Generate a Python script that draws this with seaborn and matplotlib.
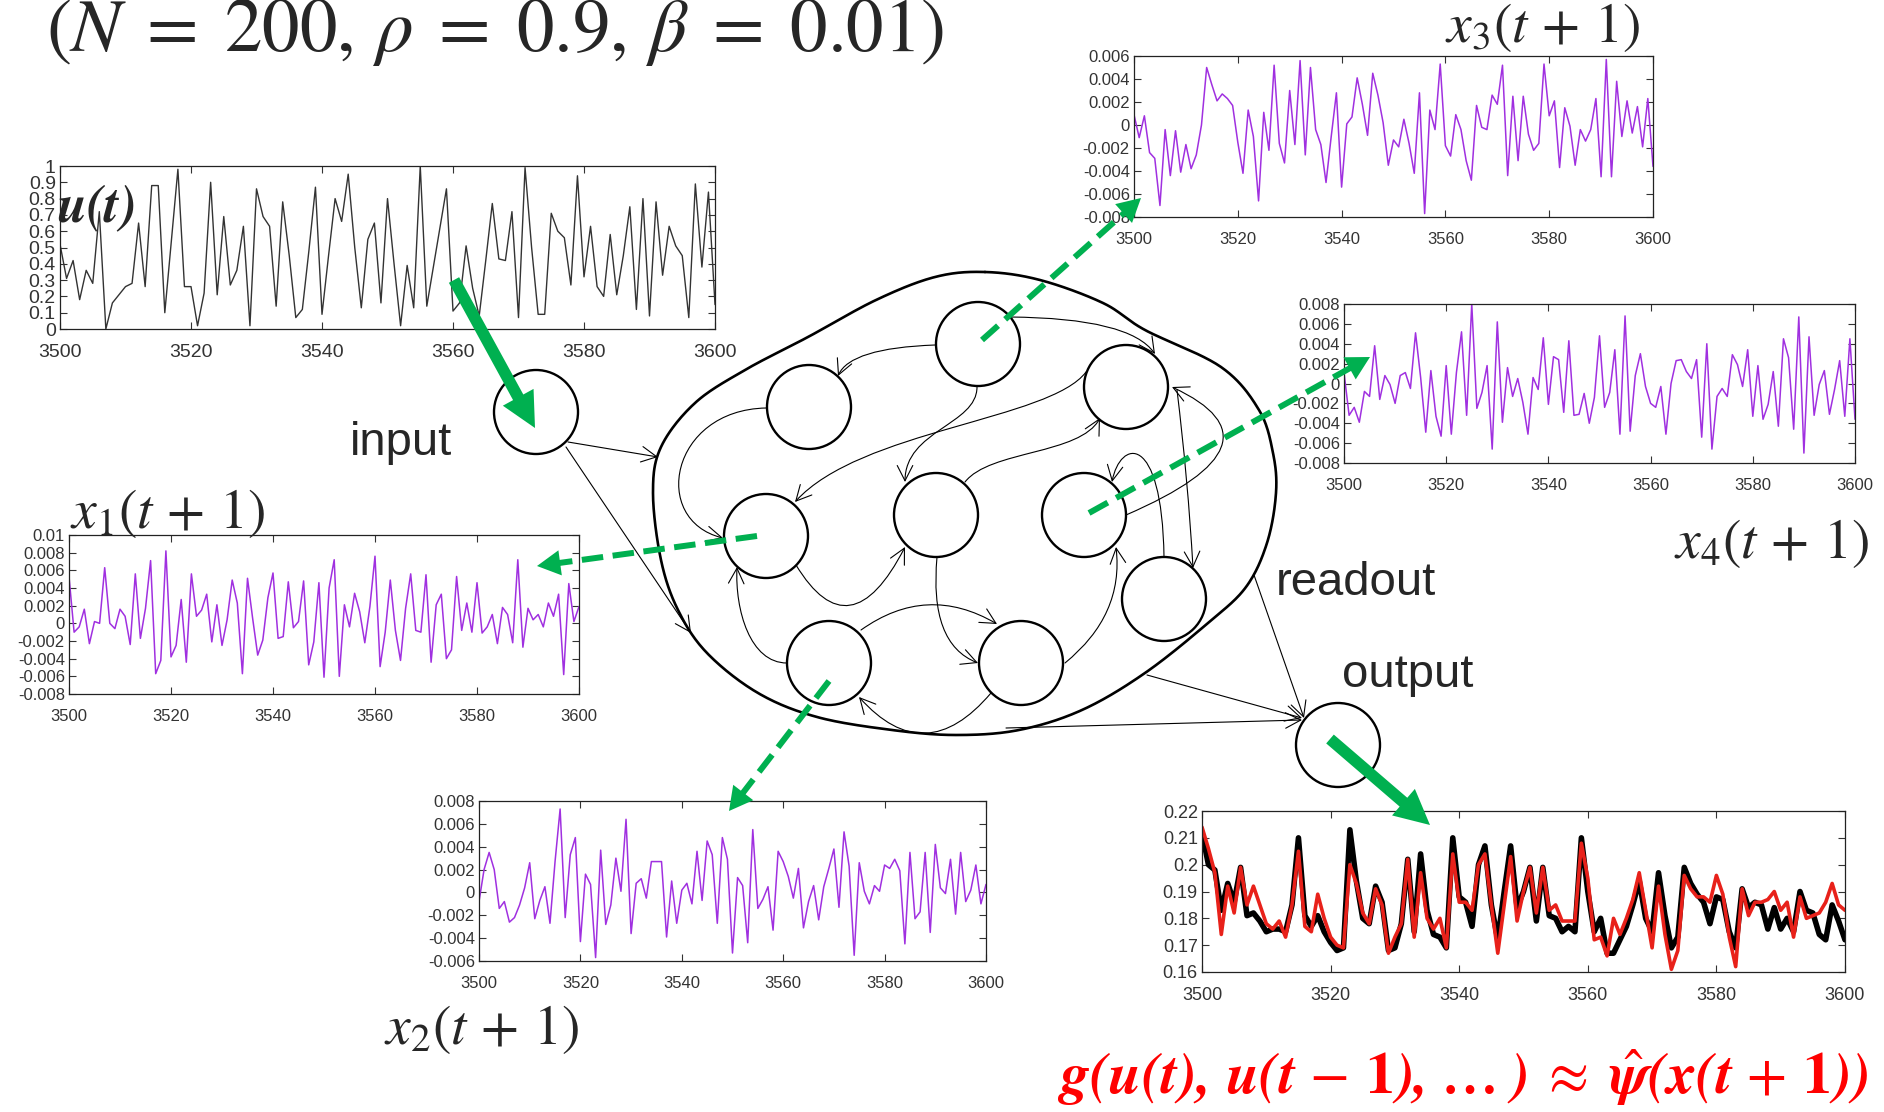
import numpy as np
import matplotlib
matplotlib.use("Agg")
import matplotlib.pyplot as plt
import seaborn as sns
from matplotlib.patches import Circle, FancyArrowPatch
from matplotlib.path import Path

sns.set_theme(style="ticks")
plt.rcParams["font.family"] = ["Liberation Sans", "DejaVu Sans"]
plt.rcParams["mathtext.fontset"] = "stix"

W, H = 1884, 1112
GREEN = "#00b050"
PURPLE = "#a030e0"

# ---- data ----
t = list(range(3500, 3601))

u_t = [0.52, 0.31, 0.42, 0.18, 0.36, 0.28, 0.72, 0.0, 0.16, 0.21,
       0.26, 0.28, 0.65, 0.26, 0.88, 0.88, 0.10, 0.54, 0.98, 0.26,
       0.26, 0.02, 0.22, 0.90, 0.21, 0.69, 0.27, 0.36, 0.63, 0.02,
       0.86, 0.69, 0.63, 0.14, 0.78, 0.45, 0.07, 0.12, 0.48, 0.87,
       0.09, 0.45, 0.80, 0.66, 0.95, 0.50, 0.13, 0.55, 0.65, 0.16,
       0.80, 0.40, 0.02, 0.39, 0.13, 1.00, 0.14, 0.38, 0.62, 0.86,
       0.11, 0.16, 0.51, 0.25, 0.08, 0.42, 0.77, 0.43, 0.42, 0.72,
       0.07, 0.99, 0.50, 0.09, 0.09, 0.71, 0.60, 0.56, 0.27, 0.94,
       0.32, 0.63, 0.26, 0.20, 0.58, 0.21, 0.45, 0.75, 0.12, 0.80,
       0.08, 0.78, 0.33, 0.63, 0.51, 0.45, 0.07, 0.89, 0.38, 0.84,
       0.15]

# reservoir states, in units of 1e-3
x1_milli = [5.3, -1.0, -0.4, 1.6, -2.3, 0.2, 0.0, 6.3, 0.0, -0.6,
            1.6, 0.8, -2.4, 5.6, -1.7, 1.7, 7.1, -5.7, -4.2, 8.2,
            -3.8, -2.5, 2.7, -4.4, 5.6, 0.8, 1.5, 3.3, -2.1, 2.1,
            -2.5, 0.4, 4.9, 2.3, -5.7, 5.1, 0.6, -3.6, -1.9, 2.9,
            5.7, -1.7, -1.5, 4.7, -0.5, 0.2, 4.8, -4.7, -2.1, 4.6,
            -6.1, 4.0, 7.2, -6.0, 2.1, -0.4, 3.4, 1.3, -2.2, 1.9,
            7.6, -4.9, -1.0, 4.9, -0.8, -4.2, 1.7, 5.6, -0.8, -1.0,
            5.5, -4.4, 2.1, 3.3, -4.0, -3.0, 5.3, -0.8, 2.3, -1.0,
            4.6, -1.1, -0.4, 1.0, -2.3, 1.8, 1.0, -2.2, 7.2, -2.7,
            1.7, 0.4, 1.0, -0.4, 2.3, 0.8, 3.3, -5.8, 4.5, 0.2,
            1.9]

x2_milli = [-0.8, 2.0, 3.5, 2.0, -1.4, -0.8, -2.6, -2.2, -1.1, 0.4,
            2.6, -2.3, -0.7, 0.5, -2.7, 2.7, 7.3, -2.2, 3.3, 4.8,
            -4.3, 1.6, 0.7, -5.7, 3.7, -2.8, -1.1, 3.0, 0.1, 6.4,
            -3.6, 0.8, 1.2, -0.5, 2.7, 2.7, 2.7, -3.9, 1.0, -2.7,
            0.2, 0.8, -1.0, 3.6, -0.7, 4.5, 3.3, -2.7, 4.8, 2.9,
            -5.3, 1.3, 0.6, -4.4, 5.5, -1.4, -0.6, 0.5, -3.3, 3.6,
            2.7, 1.4, -0.5, 2.1, -3.1, -0.8, 0.6, -2.4, 0.5, 2.1,
            3.8, -1.3, 5.3, 2.3, -5.5, 2.6, 0.1, -1.0, 0.6, 0.1,
            2.4, 2.1, 2.9, 1.9, -4.5, 3.5, -2.3, -1.7, 3.5, -3.5,
            4.2, 0.4, -0.1, 2.9, -1.9, 3.5, -0.8, 0.2, 2.4, -1.0,
            0.7]

x3_milli = [0.9, -1.1, 0.8, -2.4, -2.9, -7.0, -0.4, -4.4, -0.5, -4.1,
            -1.7, -3.8, -2.6, 0.0, 5.0, 3.5, 2.1, 2.7, 2.3, 1.7,
            -1.5, -4.2, 1.3, -1.0, -6.6, 1.1, -2.2, 5.2, -1.6, -3.3,
            3.0, -1.7, 5.6, -2.6, 5.0, -0.4, -1.7, -5.0, -1.0, 2.8,
            -5.4, 0.1, 0.7, 4.1, 1.8, -0.9, 4.5, 2.6, 0.2, -3.5,
            -1.3, -1.9, 0.5, -1.6, -4.2, 2.8, -7.7, 1.3, -0.4, 5.3,
            -1.8, -2.7, 0.9, -0.4, -3.1, -4.8, 1.7, -0.2, -0.4, 2.6,
            1.8, 5.2, -4.4, 2.5, -3.1, 2.5, -0.8, -2.2, -1.6, 5.3,
            0.8, 2.1, -3.7, 1.5, -0.1, -3.5, -0.4, -1.4, -0.4, 2.3,
            -4.5, 5.7, -4.5, 3.8, -1.0, 2.1, -0.7, 1.6, -1.9, 2.3,
            -3.6]

x4_milli = [1.1, -3.2, -2.4, -3.9, -0.8, -1.3, 3.8, -1.6, 0.8, -0.1,
            -2.0, 0.8, 1.1, -0.5, 5.1, 0.6, -4.9, 1.3, -3.3, -5.3,
            1.8, -5.1, 1.1, 5.2, -3.2, 8.0, -2.5, -0.9, 1.8, -6.6,
            6.2, -3.9, 1.6, -1.3, 0.5, -1.9, -5.1, 0.6, -0.6, 4.6,
            -2.1, 2.7, 2.4, -2.9, 4.3, -3.2, -3.1, -1.0, -4.0, -1.4,
            4.8, -2.4, -0.9, 3.4, -5.1, 6.8, -4.8, 0.8, 3.0, -0.3,
            -2.0, -2.4, -0.3, -5.1, 0.0, 2.3, 2.4, 1.2, 0.5, 2.4,
            -5.4, 4.0, -6.6, -1.3, -0.5, -1.3, 2.9, 1.9, -0.3, 3.4,
            -3.3, 1.8, -3.6, -2.1, 1.2, -4.3, 4.5, 2.6, -4.6, 6.7,
            -7.0, 4.7, -3.2, -0.1, 1.3, -3.1, -0.6, 2.3, -3.3, 4.5,
            -3.6]

out_target = [0.212, 0.200, 0.198, 0.183, 0.193, 0.186, 0.199, 0.181, 0.182, 0.179,
              0.175, 0.176, 0.176, 0.175, 0.185, 0.210, 0.181, 0.177, 0.181, 0.175,
              0.171, 0.168, 0.169, 0.213, 0.194, 0.180, 0.178, 0.192, 0.186, 0.168,
              0.169, 0.178, 0.202, 0.175, 0.204, 0.183, 0.174, 0.173, 0.169, 0.210,
              0.188, 0.186, 0.177, 0.200, 0.207, 0.185, 0.172, 0.190, 0.207, 0.184,
              0.190, 0.199, 0.179, 0.199, 0.181, 0.180, 0.175, 0.177, 0.175, 0.210,
              0.190, 0.175, 0.180, 0.167, 0.167, 0.172, 0.177, 0.185, 0.194, 0.180,
              0.175, 0.197, 0.181, 0.169, 0.173, 0.199, 0.193, 0.189, 0.186, 0.178,
              0.188, 0.187, 0.175, 0.169, 0.191, 0.184, 0.186, 0.185, 0.176, 0.184,
              0.176, 0.180, 0.175, 0.190, 0.183, 0.182, 0.174, 0.172, 0.185, 0.179,
              0.172]

out_pred = [0.214, 0.206, 0.197, 0.174, 0.192, 0.182, 0.199, 0.185, 0.192, 0.185,
            0.178, 0.176, 0.179, 0.173, 0.185, 0.205, 0.177, 0.175, 0.189, 0.180,
            0.173, 0.170, 0.169, 0.200, 0.193, 0.182, 0.178, 0.191, 0.185, 0.167,
            0.173, 0.178, 0.202, 0.173, 0.197, 0.180, 0.176, 0.180, 0.169, 0.204,
            0.186, 0.186, 0.183, 0.200, 0.204, 0.185, 0.167, 0.185, 0.203, 0.179,
            0.190, 0.199, 0.182, 0.199, 0.183, 0.185, 0.179, 0.179, 0.179, 0.208,
            0.195, 0.172, 0.173, 0.166, 0.180, 0.174, 0.180, 0.187, 0.197, 0.183,
            0.169, 0.192, 0.174, 0.161, 0.168, 0.196, 0.191, 0.188, 0.188, 0.186,
            0.196, 0.189, 0.173, 0.162, 0.191, 0.181, 0.186, 0.186, 0.187, 0.190,
            0.183, 0.186, 0.173, 0.188, 0.180, 0.181, 0.182, 0.186, 0.193, 0.185,
            0.183]

fig = plt.figure(figsize=(W / 100, H / 100), dpi=100)
fig.patch.set_facecolor("white")


def panel(box, ylim, ystep, fs=12):
    L, T, R, B = box
    ax = fig.add_axes([L / W, 1 - B / H, (R - L) / W, (B - T) / H])
    ax.set_xlim(3500, 3600)
    ax.set_ylim(*ylim)
    ax.set_xticks(range(3500, 3601, 20))
    yt = np.round(np.arange(ylim[0], ylim[1] + ystep / 2, ystep), 4)
    ax.set_yticks(yt)
    ax.set_yticklabels([f"{v + 0.0:g}" for v in yt])
    ax.tick_params(direction="in", top=True, right=True, length=5, width=0.8,
                   labelsize=fs, colors="#333333")
    ax.tick_params(axis="x", pad=11)
    ax.tick_params(axis="y", pad=3)
    for s in ax.spines.values():
        s.set_color("#222222")
        s.set_linewidth(0.9)
    return ax


# u(t)
ax = panel((60, 166, 715, 329), (0, 1), 0.1, fs=14)
sns.lineplot(x=t, y=u_t, ax=ax, color="#333333", lw=1.0)
ax.set(xlabel=None, ylabel=None)

# x3
ax = panel((1134, 56, 1653, 217), (-0.008, 0.006), 0.002)
sns.lineplot(x=t, y=np.array(x3_milli) * 1e-3, ax=ax, color=PURPLE, lw=1.1)
ax.set(xlabel=None, ylabel=None)

# x4
ax = panel((1344, 304, 1855, 463), (-0.008, 0.008), 0.002)
sns.lineplot(x=t, y=np.array(x4_milli) * 1e-3, ax=ax, color=PURPLE, lw=1.1)
ax.set(xlabel=None, ylabel=None)

# x1
ax = panel((69, 535, 579, 694), (-0.008, 0.01), 0.002)
sns.lineplot(x=t, y=np.array(x1_milli) * 1e-3, ax=ax, color=PURPLE, lw=1.1)
ax.set(xlabel=None, ylabel=None)

# x2
ax = panel((479, 801, 986, 961), (-0.006, 0.008), 0.002)
sns.lineplot(x=t, y=np.array(x2_milli) * 1e-3, ax=ax, color=PURPLE, lw=1.1)
ax.set(xlabel=None, ylabel=None)

# output
ax = panel((1202, 811, 1845, 972), (0.16, 0.22), 0.01, fs=13)
sns.lineplot(x=t, y=out_target, ax=ax, color="black", lw=4.0)
sns.lineplot(x=t, y=out_pred, ax=ax, color="#e8211a", lw=2.6)
ax.set(xlabel=None, ylabel=None)

# ---- diagram overlay (pixel coordinates) ----
ov = fig.add_axes([0, 0, 1, 1])
ov.set_xlim(0, W)
ov.set_ylim(H, 0)
ov.axis("off")
ov.patch.set_alpha(0)


def closed_spline(pts, n=24):
    P = np.asarray(pts, float)
    N = len(P)
    s = np.linspace(0, 1, n, endpoint=False)[:, None]
    out = []
    for i in range(N):
        p0, p1, p2, p3 = P[i - 1], P[i], P[(i + 1) % N], P[(i + 2) % N]
        out.append(0.5 * (2 * p1 + (-p0 + p2) * s + (2 * p0 - 5 * p1 + 4 * p2 - p3) * s ** 2
                          + (-p0 + 3 * p1 - 3 * p2 + p3) * s ** 3))
    out = np.vstack(out)
    return np.vstack([out, out[:1]])


blob = [(985, 272), (1040, 280), (1103, 303), (1145, 330), (1221, 367), (1259, 410),
        (1273, 453), (1276, 493), (1267, 543), (1246, 587), (1208, 623), (1145, 673),
        (1082, 710), (1019, 730), (956, 735), (892, 730), (817, 717), (758, 693),
        (707, 653), (678, 610), (661, 560), (653, 493), (661, 447), (695, 403),
        (745, 370), (808, 337), (876, 300), (935, 277)]
bl = closed_spline(blob)
ov.plot(bl[:, 0], bl[:, 1], color="black", lw=1.9, zorder=1)

nodes = [(978, 344), (809, 407), (1126, 387), (766, 536), (936, 515),
         (1084, 515), (1164, 599), (829, 663), (1021, 663)]
for (cx, cy) in nodes + [(536, 412), (1338, 745)]:
    ov.add_patch(Circle((cx, cy), 42, facecolor="white", edgecolor="black", lw=1.7, zorder=3))

edges = [
    [(935, 345), (850, 348), (838, 376)],
    [(1010, 317), (1130, 318), (1155, 354)],
    [(977, 387), (977, 425), (905, 430), (905, 482)],
    [(1086, 372), (1050, 420), (860, 430), (795, 502)],
    [(766, 408), (670, 410), (650, 520), (723, 538)],
    [(965, 482), (990, 450), (1080, 455), (1100, 418)],
    [(796, 565), (850, 654), (905, 547)],
    [(787, 663), (750, 663), (735, 610), (737, 567)],
    [(861, 630), (927, 583), (997, 624)],
    [(991, 693), (925, 771), (859, 697)],
    [(937, 557), (929, 644), (978, 663)],
    [(1065, 663), (1124, 615), (1116, 547)],
    [(1126, 515), (1293, 443), (1172, 387)],
    [(1177, 390), (1188, 480), (1193, 568)],
    [(1164, 557), (1162, 430), (1120, 440), (1112, 482)],
    [(568, 442), (658, 457)],
    [(566, 447), (691, 633)],
    [(1254, 575), (1304, 718)],
    [(1147, 675), (1302, 718)],
    [(1006, 728), (1302, 720)],
]
for e in edges:
    if len(e) == 2:
        codes = [Path.MOVETO, Path.LINETO]
    elif len(e) == 3:
        codes = [Path.MOVETO, Path.CURVE3, Path.CURVE3]
    else:
        codes = [Path.MOVETO, Path.CURVE4, Path.CURVE4, Path.CURVE4]
    ov.add_patch(FancyArrowPatch(path=Path(e, codes), arrowstyle="->,head_length=0.55,head_width=0.28",
                                 mutation_scale=20, color="black", lw=0.8, zorder=2))


def dashed_arrow(p0, p1):
    p0, p1 = np.array(p0, float), np.array(p1, float)
    d = (p1 - p0) / np.linalg.norm(p1 - p0)
    base = p1 - d * 18
    ov.plot([p0[0], base[0]], [p0[1], base[1]], color=GREEN, lw=4.3,
            dashes=(3.6, 1.6), dash_capstyle="butt", zorder=5)
    ov.add_patch(FancyArrowPatch(tuple(p1 - d * 24), tuple(p1), arrowstyle="-|>,head_length=1.2,head_width=0.65",
                                 mutation_scale=14, color=GREEN, lw=0, shrinkA=0, shrinkB=0, zorder=5))


dashed_arrow((982, 340), (1141, 198))
dashed_arrow((1089, 513), (1370, 357))
dashed_arrow((757, 536), (537, 566))
dashed_arrow((829, 681), (729, 811))

for p0, p1 in [((454, 280), (535, 428)), ((1330, 739), (1430, 825))]:
    ov.add_patch(FancyArrowPatch(p0, p1, arrowstyle="simple,head_length=0.9,head_width=0.9,tail_width=0.3",
                                 mutation_scale=28, color=GREEN, lw=0, shrinkA=0, shrinkB=0, zorder=5))

# ---- text ----
ov.text(46, 32, r"$(N\;=\;200,\,\rho\;=\;0.9,\,\beta\;=\;0.01)$", fontsize=54,
        ha="left", va="center", zorder=6)
ov.text(57, 208, r"$\mathbfit{u(t)}$", fontsize=38, ha="left", va="center", zorder=6)
ov.text(1640, 28, r"$x_3(t\,+\,1)$", fontsize=40, ha="right", va="center", zorder=6)
ov.text(70, 513, r"$x_1(t\,+\,1)$", fontsize=40, ha="left", va="center", zorder=6)
ov.text(1674, 544, r"$x_4(t\,+\,1)$", fontsize=40, ha="left", va="center", zorder=6)
ov.text(384, 1030, r"$x_2(t\,+\,1)$", fontsize=40, ha="left", va="center", zorder=6)
ov.text(1057, 1078,
        r"$\mathbfit{g(u(t),\,u(t}\,-\,\mathbf{1}\mathbfit{),\,\ldots\,)}\;\approx\;"
        r"\hat{\mathbfit{\psi}}\mathbfit{(x(t}\,+\,\mathbf{1}\mathbfit{))}$",
        fontsize=42, color="#ff0000", ha="left", va="center", zorder=6)
ov.text(350, 443, "input", fontsize=34, ha="left", va="center", zorder=6)
ov.text(1276, 583, "readout", fontsize=34, ha="left", va="center", zorder=6)
ov.text(1342, 675, "output", fontsize=34, ha="left", va="center", zorder=6)

plt.savefig("out.png", dpi=100)
